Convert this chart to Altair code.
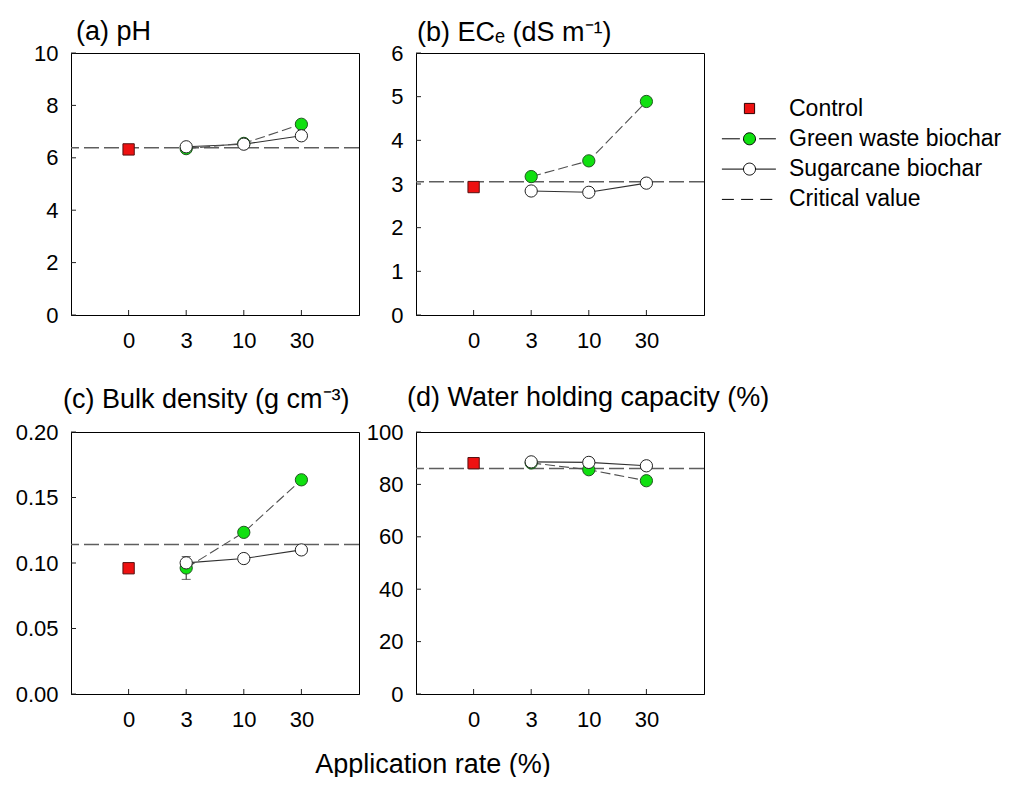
import altair as alt
import pandas as pd

# ---------------- data ----------------
rates = ["0", "3", "10", "30"]
bio_rates = ["3", "10", "30"]

ph_control = [6.32]
ph_green = [6.35, 6.55, 7.28]
ph_sugar = [6.42, 6.52, 6.84]
ph_critical = [6.38]
ph_ticks = [0, 2, 4, 6, 8, 10]

ec_control = [2.93]
ec_green = [3.17, 3.53, 4.89]
ec_sugar = [2.84, 2.81, 3.02]
ec_critical = [3.05]
ec_ticks = [0, 1, 2, 3, 4, 5, 6]

bd_control = [0.096]
bd_green = [0.0962, 0.1234, 0.1635]
bd_green_err = [0.0087]
bd_err_rates = ["3"]
bd_sugar = [0.1001, 0.1034, 0.110]
bd_critical = [0.1142]
bd_ticks = [0.0, 0.05, 0.10, 0.15, 0.20]

whc_control = [88.1]
whc_green = [88.2, 85.6, 81.4]
whc_sugar = [88.6, 88.4, 87.1]
whc_critical = [86.1]
whc_ticks = [0, 20, 40, 60, 80, 100]

legend_labels = ["Control", "Green waste biochar", "Sugarcane biochar", "Critical value"]

# ---------------- styles ----------------
W, H = 288, 262
FONT = "Liberation Sans"
RED = "#ee1111"
GREEN = "#10e010"

legend_fills = [RED, GREEN, "#ffffff", "transparent"]
legend_strokes = ["#300000", "#000000", "#000000", "#000000"]
circle = "M1,0A1,1,0,1,1,-1,0A1,1,0,1,1,1,0Z"
legend_shapes = [
    "M-0.85,-0.85H0.85V0.85H-0.85Z",
    "M-4.6,0H-1.6M1.6,0H4.4M" + circle[1:],
    "M-4.6,0H-1M1,0H4.4M" + circle[1:],
    "M-4.6,0H-2.6M-1.4,0H0.6M1.8,0H3.8",
]


def panel(title, control, green, sugar, critical, ticks, ymax, fmt,
          title_dx, title_offset, title_dy, err=None, with_legend=False):
    x_enc = alt.X("rate:O",
                  scale=alt.Scale(type="point", domain=rates, padding=1),
                  axis=alt.Axis(title=None, labelAngle=0, ticks=False, grid=False,
                                labelPadding=15, labelFontSize=22))
    y_enc = alt.Y("v:Q",
                  scale=alt.Scale(domain=[0, ymax], nice=False, zero=True),
                  axis=alt.Axis(title=None, values=ticks, format=fmt, ticks=False,
                                grid=False, labelPadding=13, labelFontSize=22))

    ctrl_df = pd.DataFrame({"rate": rates[:1], "v": control})
    green_df = pd.DataFrame({"rate": bio_rates, "v": green})
    sugar_df = pd.DataFrame({"rate": bio_rates, "v": sugar})
    crit_df = pd.DataFrame({"v": critical})
    ytick_df = pd.DataFrame({"v": ticks})
    xtick_df = pd.DataFrame({"rate": rates})

    layers = [
        alt.Chart(crit_df).mark_rule(color="#5e5e5e", strokeDash=[15, 5], strokeWidth=1.5)
        .encode(y=y_enc),
        alt.Chart(ytick_df).mark_rule(color="#222", strokeWidth=1)
        .encode(y=y_enc, x=alt.value(0), x2=alt.value(5)),
        alt.Chart(xtick_df).mark_rule(color="#222", strokeWidth=1)
        .encode(x=x_enc, y=alt.value(H), y2=alt.value(H - 5)),
        alt.Chart(sugar_df).mark_line(color="#303030", strokeWidth=1.1)
        .encode(x=x_enc, y=y_enc),
        alt.Chart(green_df).mark_line(color="#505050", strokeWidth=1.1, strokeDash=[10, 4])
        .encode(x=x_enc, y=y_enc),
    ]
    if err is not None:
        e_rates, e_mid, e_size = err
        lo = [m - s for m, s in zip(e_mid, e_size)]
        hi = [m + s for m, s in zip(e_mid, e_size)]
        err_df = pd.DataFrame({"rate": e_rates, "v": lo, "v2": hi})
        cap_df = pd.DataFrame({"rate": e_rates * 2, "v": lo + hi})
        layers.append(alt.Chart(err_df).mark_rule(color="#222", strokeWidth=1)
                      .encode(x=x_enc, y=y_enc, y2="v2:Q"))
        layers.append(alt.Chart(cap_df).mark_tick(color="#222", size=9, thickness=1)
                      .encode(x=x_enc, y=y_enc))
    layers += [
        alt.Chart(ctrl_df).mark_square(size=128, color=RED, stroke="#551111",
                                       strokeWidth=1, opacity=1)
        .encode(x=x_enc, y=y_enc),
        alt.Chart(green_df).mark_circle(size=150, color=GREEN, stroke="#225522",
                                        strokeWidth=1, opacity=1)
        .encode(x=x_enc, y=y_enc),
        alt.Chart(sugar_df).mark_circle(size=150, color="#ffffff", stroke="#222222",
                                        strokeWidth=1, opacity=1)
        .encode(x=x_enc, y=y_enc),
    ]
    if with_legend:
        leg = alt.Legend(title=None, orient="none", legendX=667, legendY=44,
                         labelFontSize=23, labelFont=FONT, labelColor="#000",
                         labelLimit=400, symbolSize=144, labelOffset=28, rowPadding=6.3,
                         symbolStrokeWidth=1)
        leg_df = pd.DataFrame({"rate": ["0"] * 4, "v": [0] * 4, "series": legend_labels})
        layers.append(
            alt.Chart(leg_df).transform_filter("false")
            .mark_point(filled=True, strokeWidth=1, opacity=1)
            .encode(x=x_enc, y=y_enc,
                    shape=alt.Shape("series:N", scale=alt.Scale(domain=legend_labels,
                                                                range=legend_shapes),
                                    legend=leg),
                    fill=alt.Fill("series:N", scale=alt.Scale(domain=legend_labels,
                                                              range=legend_fills),
                                  legend=leg),
                    stroke=alt.Stroke("series:N", scale=alt.Scale(domain=legend_labels,
                                                                  range=legend_strokes),
                                      legend=leg))
        )
    return alt.layer(*layers).properties(
        width=W, height=H,
        title=alt.Title(title, anchor="start", frame="group", dx=title_dx, dy=title_dy,
                        offset=title_offset, baseline="alphabetic",
                        fontSize=27, font=FONT, fontWeight="normal", color="#000"),
    )


pa = panel("(a) pH", ph_control, ph_green, ph_sugar, ph_critical, ph_ticks, 10, "d", 5, 11, 36)
pb = panel("(b) ECₑ (dS m⁻¹)", ec_control, ec_green, ec_sugar, ec_critical, ec_ticks, 6, "d",
           1, 10, 36, with_legend=True)
pc = panel("(c) Bulk density (g cm⁻³)", bd_control, bd_green, bd_sugar, bd_critical, bd_ticks,
           0.20, ".2f", -8, 24, 38, err=(bd_err_rates, bd_green[:1], bd_green_err))
pd_ = panel("(d) Water holding capacity (%)", whc_control, whc_green, whc_sugar, whc_critical,
            whc_ticks, 100, "d", -9, 26, 38)

chart = alt.concat(
    pa, pb, pc, pd_, columns=2, bounds="flush",
    spacing=alt.RowColnumber(row=117, column=57),
).properties(
    autosize=alt.AutoSizeParams(type="none"),
    padding={"left": 63, "top": 45, "right": 941, "bottom": 724},
    title=alt.Title("Application rate (%)", orient="bottom", anchor="middle", frame="group",
                    dx=362, offset=42, baseline="alphabetic", fontSize=27, font=FONT,
                    fontWeight="normal", color="#000"),
).configure_view(
    stroke="#000", strokeWidth=1
).configure_axis(
    labelFont=FONT, labelColor="#000", domainColor="#000", domainWidth=1
).configure_legend(
    labelFont=FONT
)

chart.save("out.html", embed_options={"renderer": "svg", "actions": False})
